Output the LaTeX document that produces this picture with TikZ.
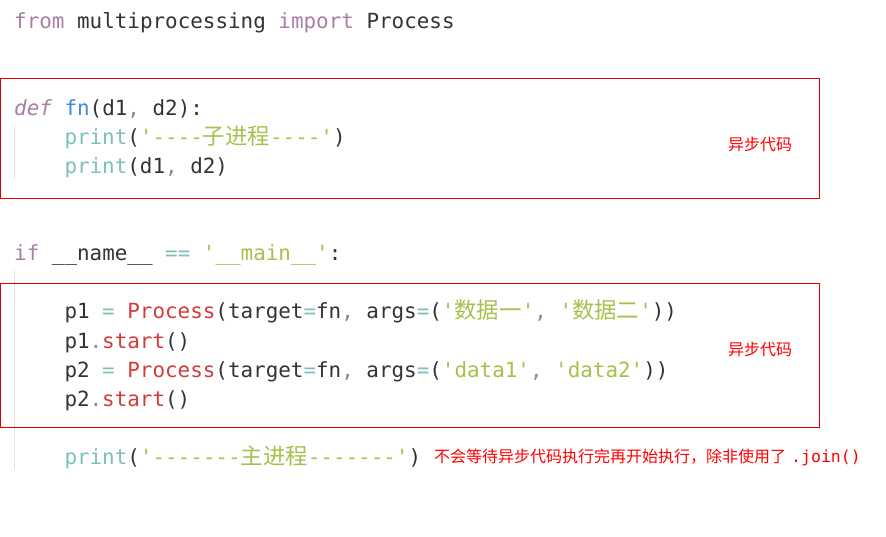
\documentclass[tikz,border=0pt]{standalone}
\usepackage{fontspec}
\setmonofont{DejaVu Sans Mono}
\newfontfamily\cjkfont{Noto Sans CJK SC}
\usepackage{tikz}
\usetikzlibrary{positioning}

\definecolor{txt}{HTML}{333333}
\definecolor{kwd}{HTML}{A87EA5}
\definecolor{opr}{HTML}{7CC0BA}
\definecolor{strg}{HTML}{A4C24B}
\definecolor{func}{HTML}{3F8AD8}
\definecolor{cls}{HTML}{D23B3B}
\definecolor{punc}{HTML}{8A8A8A}
\definecolor{note}{HTML}{FF0000}
\definecolor{frame}{HTML}{E00000}
\definecolor{guide}{HTML}{C8C8C8}

\newcommand{\pk}[1]{\textcolor{kwd}{#1}}
\newcommand{\po}[1]{\textcolor{opr}{#1}}
\newcommand{\ps}[1]{\textcolor{strg}{#1}}
\newcommand{\pf}[1]{\textcolor{func}{#1}}
\newcommand{\pc}[1]{\textcolor{cls}{#1}}
\newcommand{\pp}[1]{\textcolor{punc}{#1}}
\newcommand{\zh}[1]{{\cjkfont\fontsize{22.4}{29}\selectfont #1}}

\tikzset{
  code/.style={anchor=base west, inner sep=0, text=txt, font=\ttfamily\fontsize{20.9}{29}\selectfont},
  remark/.style={anchor=west, inner sep=0, text=note, font=\cjkfont\fontsize{16}{20}\selectfont},
  block/.style={draw=frame, line width=1pt},
  indent/.style={draw=guide, line width=1pt, dash pattern=on 1pt off 1pt}
}

\begin{document}
\begin{tikzpicture}[x=1pt,y=-1pt]
\useasboundingbox (0,0) rectangle (886,537);
% indent guides
\draw[indent] (14,126) -- (14,180);
\draw[indent] (14,270) -- (14,470);
% async blocks
\draw[block] (0.5,78.5) rectangle (819.5,199);
\draw[block] (0.5,283.5) rectangle (819.5,427);
% code lines
\node[code] (imp) at (14,29) {\pk{from} multiprocessing \pk{import} Process};
\node[code] (def) at (14,116) {\pk{\itshape def} \pf{fn}(d1\pp{,} d2):};
\node[code] (pr1) at (64.3,145) {\po{print}(\ps{'----\zh{子进程}----'})};
\node[code] (pr2) at (64.3,174) {\po{print}(d1\pp{,} d2)};
\node[code] (main) at (14,261) {\pk{if} \_\_name\_\_ \po{==} \ps{'\_\_main\_\_'}:};
\node[code] (p1) at (64.3,319) {p1 \po{=} \pc{Process}(target\po{=}fn\pp{,} args\po{=}(\ps{'\zh{数据一}'}\pp{,} \ps{'\zh{数据二}'}))};
\node[code] (s1) at (64.3,348) {p1\pp{.}\pc{start}()};
\node[code] (p2) at (64.3,377) {p2 \po{=} \pc{Process}(target\po{=}fn\pp{,} args\po{=}(\ps{'data1'}\pp{,} \ps{'data2'}))};
\node[code] (s2) at (64.3,406) {p2\pp{.}\pc{start}()};
\node[code] (pr3) at (64.3,464) {\po{print}(\ps{'-------\zh{主进程}-------'})};
% remarks
\node[remark] (async1) at (728,144) {异步代码};
\node[remark] (async2) at (728,349) {异步代码};
\node[remark] (wait) at (434,457) {不会等待异步代码执行完再开始执行，除非使用了\hspace{5pt}{\ttfamily\fontsize{16.5}{20}\selectfont .join()}};
\end{tikzpicture}
\end{document}
